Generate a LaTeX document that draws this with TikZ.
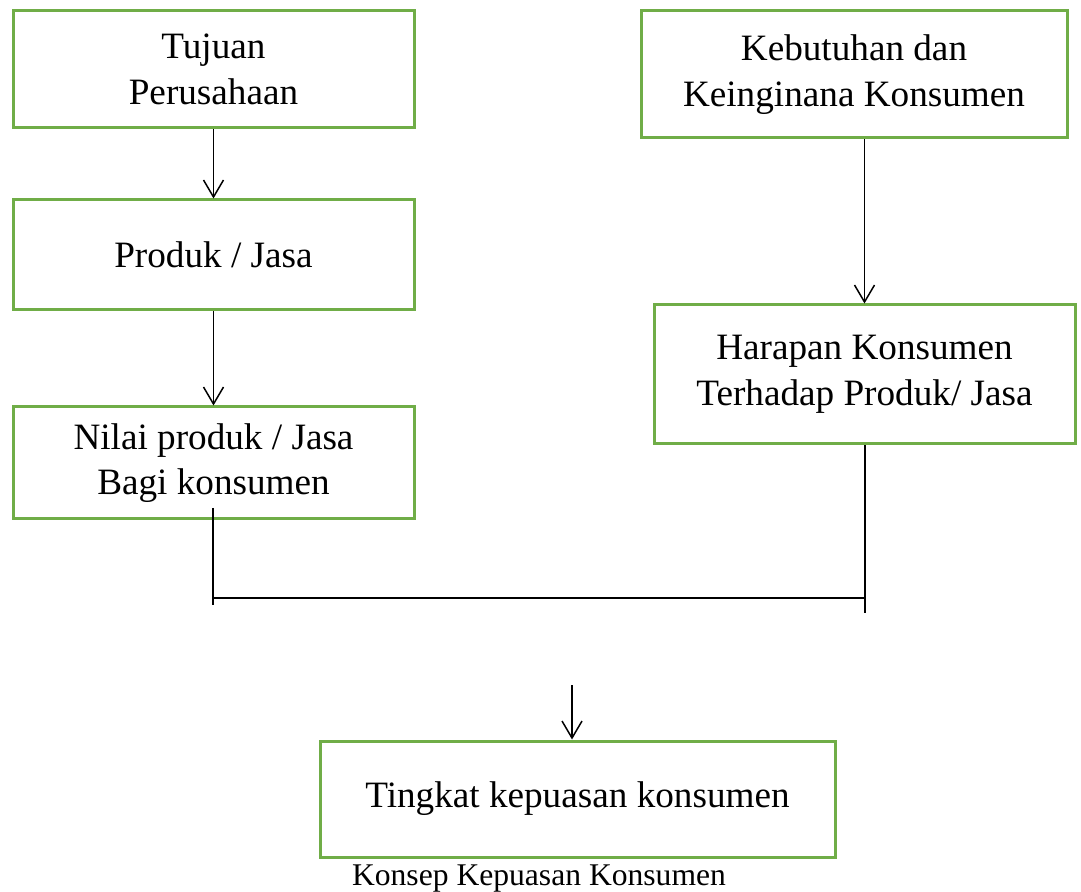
\documentclass[tikz,border=0pt]{standalone}
\usepackage{fontspec}
\setmainfont{Liberation Serif}
\usepackage{xcolor}
\usepackage{tikz}
\usetikzlibrary{positioning, arrows.meta, calc}
\definecolor{leaf}{RGB}{112,173,71}

\begin{document}
\begin{tikzpicture}[
  x=0.5pt, y=-0.5pt,
  kotak/.style={draw=leaf, line width=1.5pt, fill=white, inner sep=0pt,
                align=center, font=\fontsize{18.6}{22.8}\selectfont},
  garis/.style={draw=black, line width=0.75pt},
  panah/.style={garis, -{Straight Barb[length=8.5pt, width=10pt, line width=0.75pt]}},
  judul/.style={font=\fontsize{15.8}{19}\selectfont, inner sep=0pt}]

  \useasboundingbox (0,0) rectangle (1081,892);

  \node[kotak, minimum width=200.5pt, minimum height=58.5pt] (tujuan)    at (213.5,  69.5) {Tujuan\\Perusahaan};
  \node[kotak, minimum width=200.5pt, minimum height=55pt]   (produk)    at (213.5, 255)   {Produk / Jasa};
  \node[kotak, minimum width=200.5pt, minimum height=56pt]   (nilai)     at (213.5, 463)   {Nilai produk / Jasa\\Bagi konsumen};
  \node[kotak, minimum width=213pt,   minimum height=63.5pt] (kebutuhan) at (854,    74.5) {Kebutuhan dan\\Keinginana Konsumen};
  \node[kotak, minimum width=210.5pt, minimum height=69.5pt] (harapan)   at (864.5, 374.5) {Harapan Konsumen\\Terhadap Produk/ Jasa};
  \node[kotak, minimum width=257.5pt, minimum height=58pt]   (tingkat)   at (577.5, 799)   {Tingkat kepuasan konsumen};
  \node[judul] (ket) at (539, 879) {Konsep Kepuasan Konsumen};

  \draw[panah] (tujuan.south) -- (produk.north);
  \draw[panah] (produk.south) -- (nilai.north);
  \draw[panah] (harapan.north |- kebutuhan.south) -- (harapan.north);

  % garis gabungan
  \coordinate (kiriatas)  at (213, 508);
  \coordinate (kiribawah) at (213, 605);
  \coordinate (kiritemu)  at (213, 598);
  \coordinate (kananbawah) at (865, 613);
  \coordinate (kanantemu) at (865, 598);
  \draw[garis] (kiriatas) -- (kiribawah);
  \draw[garis] (harapan.south -| kananbawah) -- (kananbawah);
  \draw[garis] (kiritemu) -- (kanantemu);

  \coordinate (atas) at (572, 685);
  \draw[panah] (atas) -- (atas |- tingkat.north);
\end{tikzpicture}
\end{document}
